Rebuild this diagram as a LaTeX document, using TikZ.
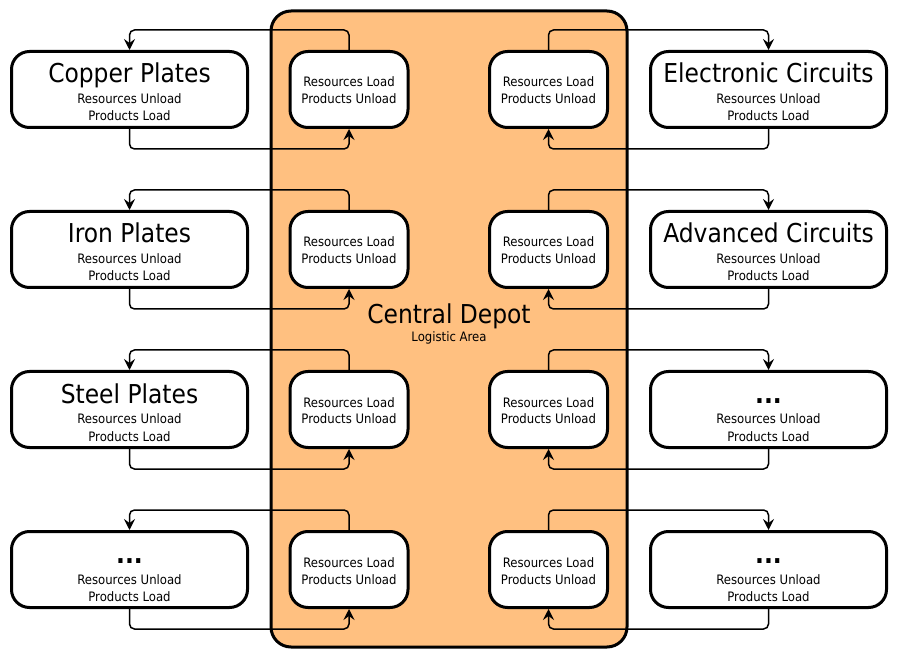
\documentclass[tikz,border=0pt]{standalone}
\usepackage{fontspec}
\setmainfont{DejaVu Sans Condensed}
\usetikzlibrary{arrows.meta}
\definecolor{depotfill}{RGB}{255,192,128}
\newcommand{\tdots}{{\bfseries...}}
\begin{document}
\begin{tikzpicture}[x=1pt,y=-1pt,
  box/.style={draw, line width=3pt, rounded corners=18pt, fill=white,
    minimum width=236pt, minimum height=76pt, inner sep=0pt},
  ibox/.style={box, minimum width=118pt},
  depot/.style={draw, line width=3pt, rounded corners=20pt, fill=depotfill,
    minimum width=356pt, minimum height=636pt, inner sep=0pt},
  title/.style={anchor=base, font=\fontsize{26}{30}\selectfont, inner sep=0pt},
  small/.style={anchor=base, font=\fontsize{13}{16}\selectfont, inner sep=0pt},
  conn/.style={line width=1.5pt, rounded corners=5pt,
    -{Stealth[length=11pt,width=11pt,inset=4pt]}}
]
\useasboundingbox (0,0) rectangle (900,660);
\node[depot] (D) at (449,329) {};
\node[title] (dt) at (449,324) {Central Depot};
\node[small] (ds) at (449,342) {Logistic Area};
\foreach \i/\t/\lt/\rt in {1/50/Copper Plates/Electronic Circuits,
                            2/210/Iron Plates/Advanced Circuits,
                            3/370/Steel Plates/\tdots,
                            4/530/\tdots/\tdots}{
  \node[box] (L\i) at (129.5,\t+39.5) {};
  \node[ibox] (A\i) at (349,\t+39.5) {};
  \node[ibox] (B\i) at (548.5,\t+39.5) {};
  \node[box] (R\i) at (768.5,\t+39.5) {};
  \node[title] (Lt\i) at (129.5,\t+33) {\lt};
  \node[small] (La\i) at (129.5,\t+54) {Resources Unload};
  \node[small] (Lb\i) at (129.5,\t+71) {Products Load};
  \node[title] (Rt\i) at (768.5,\t+33) {\rt};
  \node[small] (Ra\i) at (768.5,\t+54) {Resources Unload};
  \node[small] (Rb\i) at (768.5,\t+71) {Products Load};
  \node[small] (Aa\i) at (349,\t+37) {Resources Load};
  \node[small] (Ab\i) at (349,\t+54) {Products Unload};
  \node[small] (Ba\i) at (548.5,\t+37) {Resources Load};
  \node[small] (Bb\i) at (548.5,\t+54) {Products Unload};
  \draw[conn] (A\i.north) -- ++(0,-20) -| (L\i.north);
  \draw[conn] (L\i.south) -- ++(0,20) -| (A\i.south);
  \draw[conn] (B\i.north) -- ++(0,-20) -| (R\i.north);
  \draw[conn] (R\i.south) -- ++(0,20) -| (B\i.south);
}
\end{tikzpicture}
\end{document}
